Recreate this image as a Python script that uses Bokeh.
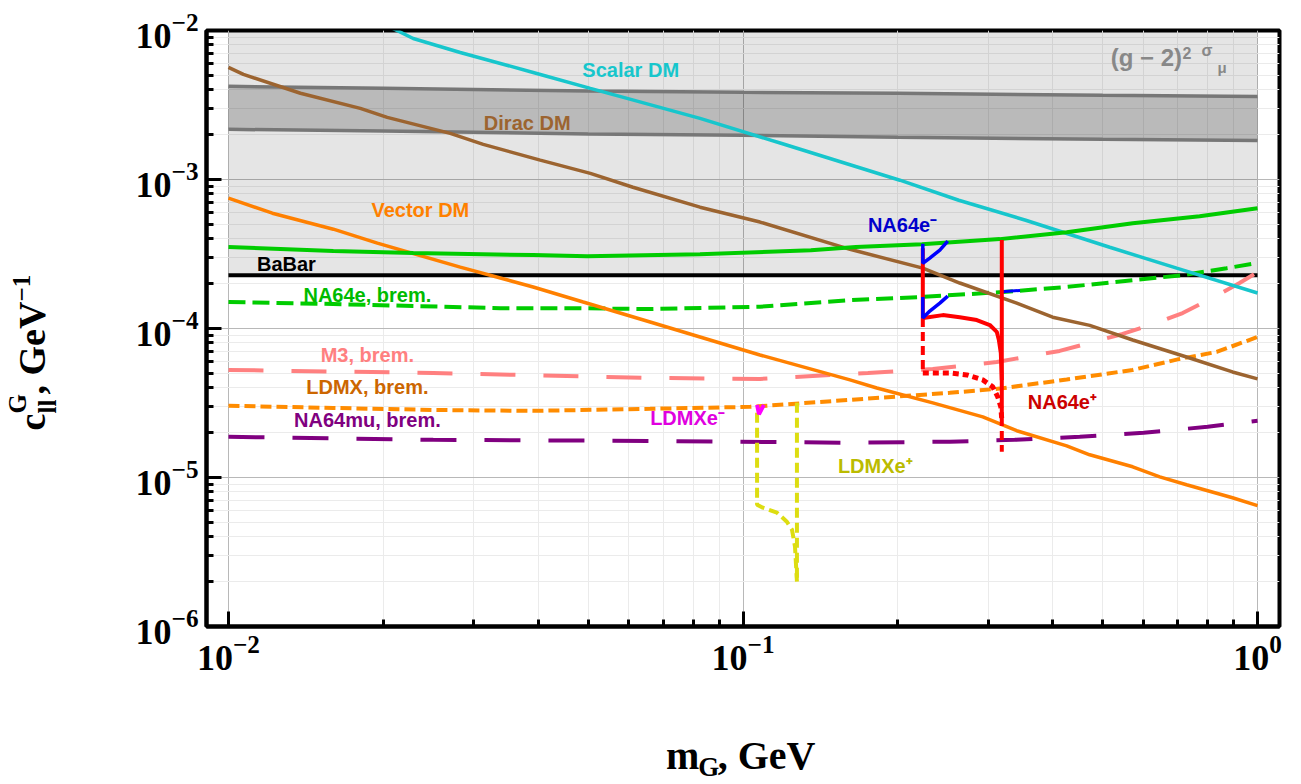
import math
from bokeh.plotting import figure
from bokeh.layouts import row, column
from bokeh.models import Range1d, FixedTicker
from bokeh.core.properties import value
from bokeh.embed import file_html
from bokeh.resources import INLINE

# ---------------- axis ticks ----------------
x_major_ticks = [1e-2, 1e-1, 1.0]
x_minor_ticks = [k * 10.0 ** e for e in (-2, -1) for k in range(2, 10)]
y_major_ticks = [1e-6, 1e-5, 1e-4, 1e-3, 1e-2]
y_minor_ticks = [k * 10.0 ** e for e in (-6, -5, -4, -3) for k in range(2, 10)]

# ---------------- data ----------------
# (g-2)_mu 2 sigma band
band_m = [0.01, 0.02, 0.05, 0.1, 0.2, 0.5, 1.0]
band_upper = [4.22e-3, 4.10e-3, 3.92e-3, 3.85e-3, 3.79e-3, 3.67e-3, 3.61e-3]
band_lower = [2.17e-3, 2.12e-3, 2.02e-3, 1.98e-3, 1.92e-3, 1.86e-3, 1.83e-3]

# BaBar bound (shaded above)
babar_m = [0.01, 1.0]
babar_c = [2.28e-4, 2.28e-4]
region_top = [1e-2, 1e-2]

scalar_m = [0.0200, 0.02286, 0.02821, 0.0391, 0.0505, 0.05953, 0.0825, 0.1185,
            0.2018, 0.2626, 0.3543, 0.5161, 0.6964, 1.0]
scalar_c = [1.11e-2, 8.84e-3, 7.12e-3, 5.23e-3, 4.09e-3, 3.50e-3, 2.57e-3, 1.75e-3,
            9.89e-4, 7.26e-4, 5.33e-4, 3.51e-4, 2.54e-4, 1.73e-4]

dirac_m = [0.01, 0.01069, 0.0138, 0.01804, 0.02035, 0.02698, 0.03127, 0.04035, 0.0505,
           0.0611, 0.0825, 0.1079, 0.1614, 0.2236, 0.2638, 0.3404, 0.3998, 0.4719,
           0.5720, 0.7279, 0.894, 1.0]
dirac_c = [5.65e-3, 5.07e-3, 3.79e-3, 3.00e-3, 2.61e-3, 2.04e-3, 1.72e-3, 1.35e-3, 1.10e-3,
           8.87e-4, 6.52e-4, 5.18e-4, 3.40e-4, 2.54e-4, 2.02e-4, 1.48e-4, 1.19e-4, 1.05e-4,
           8.37e-5, 6.44e-5, 5.11e-5, 4.59e-5]

vector_m = [0.01, 0.01217, 0.01599, 0.01947, 0.02821, 0.0391, 0.04891, 0.0660, 0.0825,
            0.1079, 0.1614, 0.182, 0.2338, 0.2924, 0.3404, 0.4257, 0.4719, 0.572,
            0.6457, 0.7279, 0.894, 1.0]
vector_c = [7.49e-4, 5.94e-4, 4.64e-4, 3.74e-4, 2.58e-4, 1.90e-4, 1.505e-4, 1.105e-4, 8.77e-5,
            6.64e-5, 4.52e-5, 3.99e-5, 3.17e-5, 2.55e-5, 2.06e-5, 1.63e-5, 1.42e-5, 1.18e-5,
            1.01e-5, 8.94e-6, 7.31e-6, 6.47e-6]

na64e_vis_m = [0.01, 0.01599, 0.02286, 0.0391, 0.0498, 0.0825, 0.1355, 0.1657, 0.2227,
               0.3155, 0.4257, 0.572, 0.7718, 1.0]
na64e_vis_c = [3.52e-4, 3.31e-4, 3.21e-4, 3.11e-4, 3.06e-4, 3.155e-4, 3.35e-4, 3.52e-4, 3.68e-4,
               3.98e-4, 4.43e-4, 5.09e-4, 5.67e-4, 6.42e-4]

na64e_brem_m = [0.01, 0.01599, 0.02286, 0.03375, 0.04553, 0.066, 0.1079, 0.1614, 0.2236,
                0.3198, 0.4257, 0.572, 0.7153, 0.8705, 1.0]
na64e_brem_c = [1.505e-4, 1.46e-4, 1.415e-4, 1.37e-4, 1.37e-4, 1.35e-4, 1.40e-4, 1.55e-4, 1.63e-4,
                1.757e-4, 1.90e-4, 2.11e-4, 2.28e-4, 2.54e-4, 2.75e-4]

m3_m = [0.01, 0.025, 0.0651, 0.1079, 0.1749, 0.2338, 0.3113, 0.4125, 0.5469, 0.6367,
        0.7153, 0.825, 0.9226, 1.0]
m3_c = [5.27e-5, 5.03e-5, 4.66e-5, 4.59e-5, 5.03e-5, 5.35e-5, 5.96e-5, 7.07e-5, 9.19e-5, 1.09e-4,
        1.27e-4, 1.63e-4, 2.02e-4, 2.39e-4]

ldmx_m = [0.01, 0.01599, 0.025, 0.0391, 0.066, 0.1032, 0.1614, 0.2523, 0.3155, 0.4257,
          0.572, 0.7058, 0.8326, 1.0]
ldmx_c = [3.03e-5, 2.93e-5, 2.84e-5, 2.80e-5, 2.89e-5, 2.98e-5, 3.32e-5, 3.70e-5, 3.95e-5, 4.55e-5,
          5.27e-5, 6.25e-5, 6.96e-5, 8.77e-5]

na64mu_m = [0.01, 0.025, 0.066, 0.1614, 0.2523, 0.3374, 0.4513, 0.6009, 0.7997, 1.0]
na64mu_c = [1.875e-5, 1.79e-5, 1.76e-5, 1.71e-5, 1.74e-5, 1.79e-5, 1.875e-5, 1.995e-5, 2.19e-5, 2.40e-5]

# NA64 e- (missing energy, blue)
na64em_up_m = [0.2236, 0.2236, 0.2307, 0.2413, 0.25]
na64em_up_c = [3.70e-4, 2.74e-4, 2.97e-4, 3.36e-4, 3.86e-4]
na64em_lo_m = [0.2236, 0.2236, 0.2307, 0.2413, 0.25]
na64em_lo_c = [1.63e-4, 1.175e-4, 1.31e-4, 1.48e-4, 1.65e-4]
na64em_bit_m = [0.3184, 0.3455]
na64em_bit_c = [1.765e-4, 1.80e-4]

# NA64 e+ (red)
na64ep_left_m = [0.2236, 0.2236]
na64ep_left_c = [3.46e-4, 1.175e-4]
na64ep_curve_m = [0.2236, 0.2257, 0.2445, 0.2638, 0.2847, 0.3018, 0.3113, 0.3142, 0.317, 0.3184]
na64ep_curve_c = [1.175e-4, 1.18e-4, 1.23e-4, 1.19e-4, 1.14e-4, 1.055e-4, 9.5e-5, 8.4e-5, 6.85e-5, 4.5e-5]
na64ep_right_m = [0.3184, 0.3184]
na64ep_right_c = [3.92e-4, 2.55e-5]
na64ep_right_dash_c = [2.55e-5, 1.49e-5]
na64ep_left_dash_c = [1.175e-4, 5.03e-5]
na64ep_dot_m = [0.2236, 0.2523, 0.2723, 0.2924, 0.3058, 0.3127, 0.317, 0.3184]
na64ep_dot_c = [5.03e-5, 5.03e-5, 4.88e-5, 4.52e-5, 4.06e-5, 3.48e-5, 2.98e-5, 2.44e-5]

# LDMX e- (magenta) and e+ (yellow)
ldmxem_m = [0.1065, 0.1074, 0.1098]
ldmxem_c = [3.07e-5, 2.66e-5, 3.07e-5]
ldmxep_a_m = [0.1065, 0.1065, 0.1093, 0.1164, 0.1217, 0.1245, 0.1262, 0.1273]
ldmxep_a_c = [2.72e-5, 6.57e-6, 6.27e-6, 5.81e-6, 5.05e-6, 4.47e-6, 3.44e-6, 2.0e-6]
ldmxep_b_m = [0.1273, 0.1273]
ldmxep_b_c = [3.17e-5, 2.0e-6]

# curve labels: text, m, c (vertical middle), color, align
label_text = ["Scalar DM", "Dirac DM", "Vector DM", "BaBar", "NA64e, brem.", "M3, brem.",
              "LDMX, brem.", "NA64mu, brem.", "NA64e\u207b", "NA64e\u207a", "LDMXe\u207b", "LDMXe\u207a"]
label_m = [0.0605, 0.03807, 0.0236, 0.01296, 0.01862, 0.01862, 0.01862, 0.01862,
           0.1749, 0.3576, 0.066, 0.1529]
label_c = [5.44e-3, 2.40e-3, 6.27e-4, 2.725e-4, 1.677e-4, 6.69e-5, 4.06e-5, 2.436e-5,
           4.97e-4, 3.19e-5, 2.49e-5, 1.19e-5]
label_color = ["#17C6CC", "#9C6430", "#FF8000", "#000000", "#00BB00", "#FF8080",
               "#CC6600", "#800080", "#0000CC", "#CC0000", "#E000E0", "#BBBB00"]
label_align = ["center"] * 8 + ["left"] * 4

# (g-2)^2 sigma_mu label pieces
gm2_text = ["(g \u2212 2)", "2", "\u03c3", "\u03bc"]
gm2_m = [0.5184, 0.7150, 0.7780, 0.836]
gm2_c = [6.54e-3, 7.07e-3, 7.34e-3, 5.65e-3]
gm2_size = ["24px", "16px", "16px", "15px"]

# axis titles (page pixel positions of text pieces: text, left/start, middle, size)
x_title = [("m", 628, 755, "40px"), ("G", 663, 766, "27px"), (", GeV", 684, 755, "40px")]
y_title = [("c", 31, 430, "38px"), ("ll", 47, 413, "25px"), ("G", 17, 413, "25px"),
           (", GeV", 31, 394, "38px"), ("\u22121", 21, 301, "25px")]

# ---------------- layout geometry ----------------
PAGE_W, PAGE_H = 1293, 784
YT_W = 130            # width of y-title strip
MAIN_H = 688          # height of main figure
XT_H = PAGE_H - MAIN_H

# ---------------- main figure ----------------
p = figure(width=PAGE_W - YT_W, height=MAIN_H, x_axis_type="log", y_axis_type="log",
           x_range=Range1d(10 ** -2.0427, 10 ** 0.0427), y_range=Range1d(1e-6, 1e-2),
           output_backend="svg", toolbar_location=None,
           min_border_left=206 - YT_W, min_border_right=14, min_border_top=30,
           min_border_bottom=MAIN_H - 626)
p.background_fill_color = "white"
p.border_fill_color = "white"
p.outline_line_color = "black"
p.outline_line_width = 4

xt = FixedTicker(ticks=x_major_ticks, minor_ticks=x_minor_ticks)
yt = FixedTicker(ticks=y_major_ticks, minor_ticks=y_minor_ticks)
p.xaxis.ticker = xt
p.yaxis.ticker = yt
p.xgrid.ticker = xt
p.ygrid.ticker = yt
for g in (p.xgrid, p.ygrid):
    g.grid_line_color = "#b8b8b8"
    g.grid_line_width = 1
    g.minor_grid_line_color = "#ebebeb"
    g.minor_grid_line_width = 1

for ax in (p.xaxis[0], p.yaxis[0]):
    ax.axis_line_width = 4
    ax.axis_line_color = "black"
    ax.major_tick_in = 15
    ax.major_tick_out = 0
    ax.minor_tick_in = 7
    ax.minor_tick_out = 0
    ax.major_tick_line_width = 3
    ax.minor_tick_line_width = 3
    ax.major_label_text_font = "Liberation Serif"
    ax.major_label_text_font_style = "bold"
    ax.major_label_text_font_size = "36px"
    ax.major_label_text_color = "black"
p.xaxis.major_label_standoff = 9
p.yaxis.major_label_standoff = 8

# shaded regions
p.varea(x=babar_m, y1=babar_c, y2=region_top, fill_color="black", fill_alpha=0.102)
p.varea(x=band_m, y1=band_lower, y2=band_upper, fill_color="black", fill_alpha=0.184)
p.line(band_m, band_upper, line_color="#777777", line_width=3.5)
p.line(band_m, band_lower, line_color="#777777", line_width=3.5)

# projections
p.line(babar_m, babar_c, line_color="black", line_width=4)
p.line(na64mu_m, na64mu_c, line_color="#800080", line_width=4, line_dash="36 28")
p.line(m3_m, m3_c, line_color="#FF8080", line_width=4, line_dash="35 28")
p.line(ldmx_m, ldmx_c, line_color="#FF8C00", line_width=4, line_dash="11 5")
p.line(na64e_brem_m, na64e_brem_c, line_color="#00CC00", line_width=4, line_dash="17 7")
p.line(na64em_bit_m, na64em_bit_c, line_color="#0000FF", line_width=3)

# DM thermal targets
p.line(dirac_m, dirac_c, line_color="#9C6430", line_width=3.5)
p.line(scalar_m, scalar_c, line_color="#17C6CC", line_width=3.5)
p.line(vector_m, vector_c, line_color="#FF8000", line_width=3.5)
p.line(na64e_vis_m, na64e_vis_c, line_color="#00CC00", line_width=4)

# NA64 e+
p.line(na64ep_left_m, na64ep_left_c, line_color="#FF0000", line_width=4)
p.line(na64ep_left_m, na64ep_left_dash_c, line_color="#FF0000", line_width=4, line_dash="9 5")
p.line(na64ep_curve_m, na64ep_curve_c, line_color="#FF0000", line_width=4)
p.line(na64ep_right_m, na64ep_right_c, line_color="#FF0000", line_width=4)
p.line(na64ep_right_m, na64ep_right_dash_c, line_color="#FF0000", line_width=4, line_dash="9 5")
p.line(na64ep_dot_m, na64ep_dot_c, line_color="#FF0000", line_width=5, line_dash="6 4")

# NA64 e-
p.line(na64em_up_m, na64em_up_c, line_color="#0000FF", line_width=3.5)
p.line(na64em_lo_m, na64em_lo_c, line_color="#0000FF", line_width=3.5)

# LDMX e+/e-
p.line(ldmxep_a_m, ldmxep_a_c, line_color="#DDDD11", line_width=4, line_dash="10 5")
p.line(ldmxep_b_m, ldmxep_b_c, line_color="#DDDD11", line_width=4, line_dash="10 5")
p.line(ldmxem_m, ldmxem_c, line_color="#FF00FF", line_width=4)

# curve labels
for t, m, c, col, al in zip(label_text, label_m, label_c, label_color, label_align):
    p.text(x=[m], y=[c], text=[t], text_color=col, text_font=value("Liberation Sans"),
           text_font_style="bold", text_font_size="20px", text_align=al,
           text_baseline="middle")

for t, m, c, s in zip(gm2_text, gm2_m, gm2_c, gm2_size):
    p.text(x=[m], y=[c], text=[t], text_color="#888888", text_font=value("Liberation Sans"),
           text_font_style="bold", text_font_size=s, text_align="left",
           text_baseline="middle")


def text_strip(w, h, x0, y0):
    f = figure(width=w, height=h, x_range=Range1d(x0, x0 + w), y_range=Range1d(y0, y0 + h),
               output_backend="svg", toolbar_location=None, min_border=0,
               x_axis_location=None, y_axis_location=None)
    f.outline_line_color = None
    f.background_fill_color = "white"
    f.border_fill_color = "white"
    f.xgrid.visible = False
    f.ygrid.visible = False
    return f


# y-title strip: data coords = page x, (PAGE_H - page y)
yfig = text_strip(YT_W, PAGE_H, 0, 0)
for t, mx, sy, fs in y_title:
    yfig.text(x=[mx], y=[PAGE_H - sy], text=[t], angle=math.pi / 2,
              text_font=value("Liberation Serif"), text_font_style="bold",
              text_font_size=fs, text_color="black", text_align="left",
              text_baseline="middle")

# x-title strip: data coords = page x, (PAGE_H - page y)
xfig = text_strip(PAGE_W - YT_W, XT_H, YT_W, 0)
for t, sx, my, fs in x_title:
    xfig.text(x=[sx], y=[PAGE_H - my], text=[t],
              text_font=value("Liberation Serif"), text_font_style="bold",
              text_font_size=fs, text_color="black", text_align="left",
              text_baseline="middle")

layout = row(yfig, column(p, xfig))
open("out.html", "w").write(file_html(layout, INLINE))
